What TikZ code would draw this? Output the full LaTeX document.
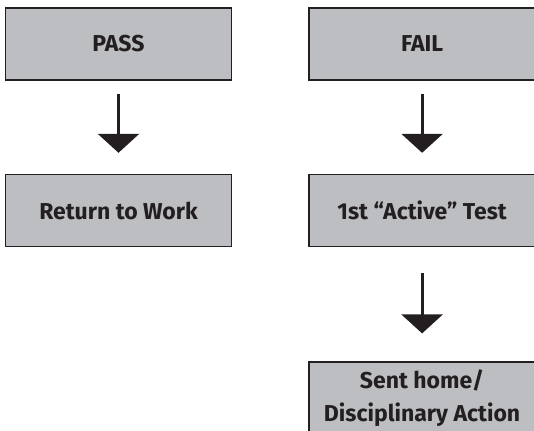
\documentclass[tikz,border=0pt]{standalone}
\usepackage{fontspec}
\setmainfont{Fira Sans}
\usetikzlibrary{positioning,arrows.meta}
\definecolor{boxgray}{RGB}{188,190,193}
\definecolor{inkblack}{RGB}{35,31,32}

\begin{document}
\begin{tikzpicture}[x=1pt,y=1pt,
        box/.style={draw=inkblack, line width=1.6pt, fill=boxgray, minimum width=226pt, minimum height=72pt,
            inner sep=0pt, align=center, text=inkblack, font=\bfseries\fontsize{23}{33}\selectfont},
        down/.style={-{Triangle[width=41pt,length=19pt]}, line width=3pt, draw=inkblack}]
                \useasboundingbox (0,0) rectangle (534,430);
                \node[box] (pass) at (118.5,386) {PASS};
                \node[box, right=76pt of pass] (fail) {FAIL};
                \node[box, below=93pt of pass] (work) {Return to Work};
                \node[box, below=93pt of fail] (active) {1st “Active” Test};
                \node[box, below=114pt of active] (home) {Sent home/\\Disciplinary Action};
                \draw [down, shorten <=13pt, shorten >=21pt] (pass) -- (work);
                \draw [down, shorten <=13pt, shorten >=21pt] (fail) -- (active);
                \draw [down, shorten <=26pt, shorten >=28pt] (active) -- (home);
            \end{tikzpicture}
\end{document}
